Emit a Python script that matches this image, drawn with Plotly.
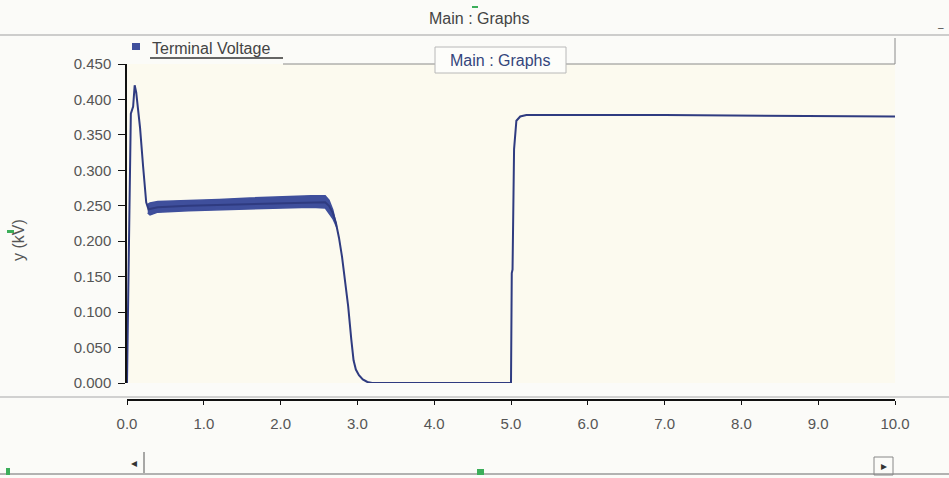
import plotly.graph_objects as go

# Terminal voltage trace (time in s, voltage in kV)
t_main = [0.00, 0.01, 0.03, 0.05, 0.08, 0.10, 0.12, 0.14, 0.17, 0.21, 0.25, 0.28,
          0.32, 0.40, 0.80, 1.20, 1.60, 2.00, 2.40, 2.58, 2.63, 2.68, 2.72, 2.76,
          2.80, 2.84, 2.88, 2.92, 2.95, 2.98, 3.02, 3.07, 3.13, 3.19, 5.00, 5.01,
          5.02, 5.04, 5.07, 5.12, 5.20, 7.00, 10.00]
v_main = [0.000, 0.100, 0.230, 0.380, 0.390, 0.420, 0.410, 0.390, 0.360, 0.305, 0.255, 0.245,
          0.246, 0.248, 0.250, 0.251, 0.253, 0.254, 0.255, 0.255, 0.250, 0.240, 0.226, 0.205,
          0.178, 0.145, 0.108, 0.062, 0.032, 0.019, 0.011, 0.005, 0.0015, 0.000, 0.000, 0.155,
          0.160, 0.330, 0.370, 0.376, 0.378, 0.378, 0.376]

# Ripple envelope during the loaded interval
t_band = [0.27, 0.30, 0.40, 0.80, 1.20, 1.60, 2.00, 2.40, 2.58, 2.63, 2.68, 2.73]
v_upper = [0.252, 0.254, 0.256, 0.257, 0.259, 0.261, 0.263, 0.264, 0.264, 0.258, 0.244, 0.224]
v_lower = [0.240, 0.237, 0.241, 0.243, 0.244, 0.246, 0.247, 0.248, 0.247, 0.240, 0.232, 0.220]

series_name = "Terminal Voltage"
panel_title = "Main : Graphs"
x_ticks = [0, 1, 2, 3, 4, 5, 6, 7, 8, 9, 10]
y_ticks = [0.00, 0.05, 0.10, 0.15, 0.20, 0.25, 0.30, 0.35, 0.40, 0.45]

W, H = 949, 478
L, R, T, B = 127, 54, 64, 78
PW, PH = W - L - R, H - T - B
Y0 = 383  # pixel row of 0 kV


def px(x):
    return (x - L) / PW


def py(y):
    return (H - B - y) / PH


LINE_C = "#2f3b80"
BAND_C = "#3f4f9c"
TXT_C = "#555555"
FONT = "Liberation Sans"

fig = go.Figure()
fig.add_trace(go.Scatter(
    x=t_band + t_band[::-1], y=v_upper + v_lower[::-1],
    fill="toself", fillcolor=BAND_C, mode="lines",
    line=dict(color=BAND_C, width=1.5), hoverinfo="skip", showlegend=False))
fig.add_trace(go.Scatter(
    x=t_main, y=v_main, mode="lines", name=series_name,
    line=dict(color=LINE_C, width=2), showlegend=False))

shapes = []
ann = []


def hline(x0, x1, y, color="#9a9a9a", w=1):
    shapes.append(dict(type="line", xref="paper", yref="paper",
                       x0=px(x0), x1=px(x1), y0=py(y), y1=py(y),
                       line=dict(color=color, width=w)))


def vline(x, y0, y1, color="#9a9a9a", w=1):
    shapes.append(dict(type="line", xref="paper", yref="paper",
                       x0=px(x), x1=px(x), y0=py(y0), y1=py(y1),
                       line=dict(color=color, width=w)))


def rect(x0, y0, x1, y1, fill, color, w=1):
    shapes.append(dict(type="rect", xref="paper", yref="paper",
                       x0=px(x0), x1=px(x1), y0=py(y0), y1=py(y1),
                       fillcolor=fill, line=dict(color=color, width=w), layer="above"))


def text(x, y, s, size=13, color=TXT_C, xanchor="center", angle=0):
    ann.append(dict(xref="paper", yref="paper", x=px(x), y=py(y), text=s,
                    showarrow=False, xanchor=xanchor, yanchor="middle",
                    textangle=angle, font=dict(family=FONT, size=size, color=color)))


# window header
text(479, 18, panel_title, size=16, color="#444444")
hline(0, 949, 35, "#a0a0a0", 1.2)
rect(472, 6, 478, 8, "#3cae5a", "#3cae5a", 0)
text(941, 28, "–", size=10, color="#444444")

# legend frame
rect(132, 43, 140, 50, BAND_C, BAND_C, 0)
text(150, 49, series_name, size=16, color="#444444", xanchor="left")
hline(150, 283, 58, "#333333", 1.5)
hline(283, 435, 64, "#8a8a8a", 1)
hline(566, 895, 64, "#8a8a8a", 1)
vline(895, 64, 38, "#8a8a8a", 1)
rect(435, 47, 566, 73, "#fdfdfa", "#b8b8b8", 1)
text(500, 60, panel_title, size=16, color="#34457c")

# y axis title
text(18, 240, "y (kV)", size=16, angle=-90)
rect(7, 230, 14, 233, "#3cae5a", "#3cae5a", 0)

# separator above time axis
hline(0, 949, 397, "#a8a8a8", 1.2)

# scroll bar
hline(0, 949, 474, "#9a9a9a", 1.5)
text(134, 463, "◂", size=12, color="#333333")
vline(144, 452, 473, "#555555", 1)
rect(874, 457, 893, 475, "rgba(0,0,0,0)", "#888888", 1)
text(884, 466, "▸", size=12, color="#333333")
rect(477, 469, 484, 475, "#3cae5a", "#3cae5a", 0)
rect(6, 468, 10, 475, "#3cae5a", "#3cae5a", 0)

fig.update_layout(
    width=W, height=H,
    margin=dict(l=L, r=R, t=T, b=B, pad=0),
    paper_bgcolor="#fbfbf8",
    plot_bgcolor="#fcfaef",
    showlegend=False,
    shapes=shapes,
    annotations=ann,
    xaxis=dict(range=[0, 10], tickvals=x_ticks, tickformat=".1f",
               anchor="free", position=0,
               showline=True, linecolor="#111111", linewidth=1.5,
               ticks="outside", ticklen=4, tickcolor="#111111",
               showgrid=False, zeroline=False, ticklabelstandoff=6,
               tickfont=dict(family=FONT, size=15, color=TXT_C)),
    yaxis=dict(range=[0, 0.45], tickvals=y_ticks, tickformat=".3f",
               domain=[py(Y0), 1],
               showline=True, linecolor="#111111", linewidth=1.5,
               ticks="outside", ticklen=7, tickcolor="#111111",
               showgrid=False, zeroline=False, ticklabelstandoff=4,
               tickfont=dict(family=FONT, size=15, color=TXT_C)),
)

fig.write_html("out.html")
